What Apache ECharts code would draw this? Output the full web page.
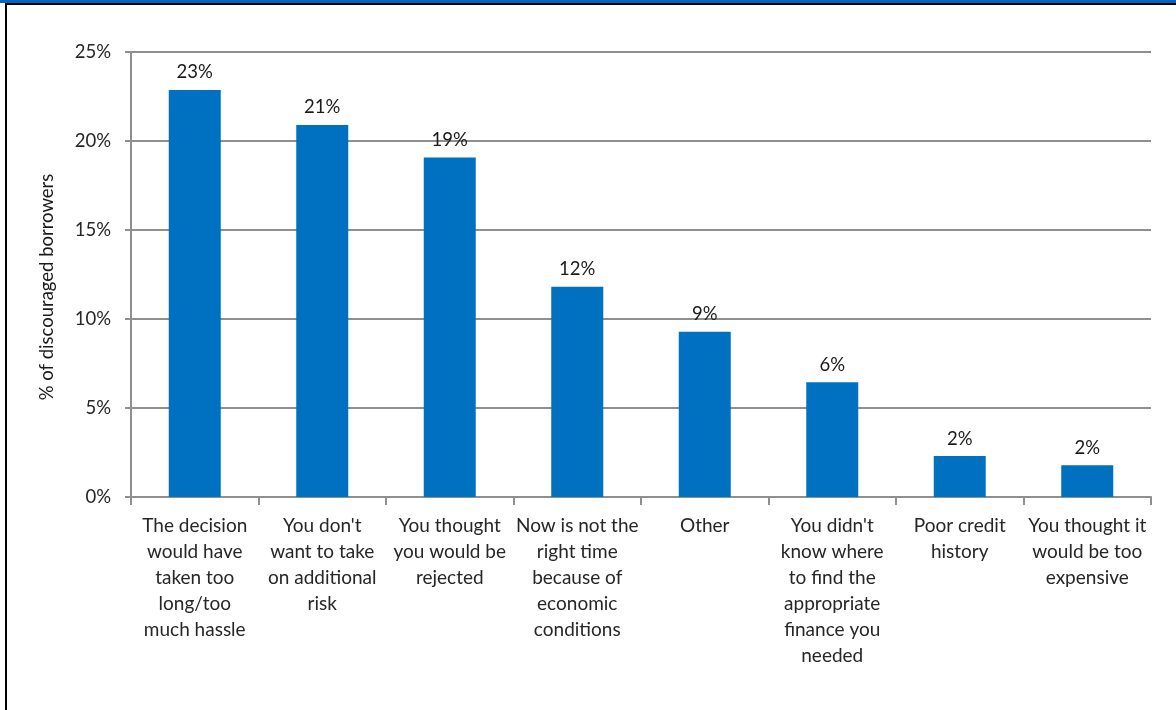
<!DOCTYPE html>
<html>
<head>
<meta charset="utf-8">
<script src="https://cdn.jsdelivr.net/npm/echarts@6/dist/echarts.min.js"></script>
<style>
  html, body { margin: 0; padding: 0; background: #fff; }
  #frame { position: absolute; left: 0; top: 0; width: 1176px; height: 710px; overflow: hidden; }
  #topband { position: absolute; left: 0; top: 0; width: 1176px; height: 3px; background: #0563C1; }
  #topline { position: absolute; left: 5px; top: 3px; width: 1171px; height: 2px; background: #000; }
  #leftline { position: absolute; left: 5px; top: 3px; width: 2px; height: 707px; background: #000; }
  #chart { position: absolute; left: 0; top: 0; width: 1176px; height: 710px; }
</style>
</head>
<body>
<div id="frame">
  <div id="chart"></div>
  <div id="topband"></div>
  <div id="topline"></div>
  <div id="leftline"></div>
</div>
<script>
// Reasons given by discouraged borrowers (share in %)
const categories = [
  'The decision\nwould have\ntaken too\nlong/too\nmuch hassle',
  "You don't\nwant to take\non additional\nrisk",
  'You thought\nyou would be\nrejected',
  'Now is not the\nright time\nbecause of\neconomic\nconditions',
  'Other',
  "You didn't\nknow where\nto find the\nappropriate\nfinance you\nneeded",
  'Poor credit\nhistory',
  'You thought it\nwould be too\nexpensive'
];
const shares = [22.87, 20.9, 19.08, 11.81, 9.29, 6.44, 2.3, 1.78];
const yTicks = [0, 5, 10, 15, 20, 25];
const yAxisTitle = '% of discouraged borrowers';

const FONT = 'Lato, "Open Sans", "Noto Sans", sans-serif';
const GRID_GREY = '#8f8f8f';
const chart = echarts.init(document.getElementById('chart'), null, { renderer: 'canvas' });

chart.setOption({
  animation: false,
  backgroundColor: '#fff',
  grid: { left: 131, right: 25, top: 52, bottom: 213, containLabel: false },
  xAxis: {
    type: 'category',
    data: categories,
    boundaryGap: true,
    axisLine: { show: true, lineStyle: { color: GRID_GREY, width: 2 } },
    axisTick: { show: true, alignWithLabel: false, length: 8, lineStyle: { color: GRID_GREY, width: 2 } },
    axisLabel: {
      interval: 0,
      margin: 16,
      color: '#262626',
      fontFamily: FONT,
      fontSize: 19,
      lineHeight: 26,
      align: 'center'
    }
  },
  yAxis: {
    type: 'value',
    min: yTicks[0],
    max: yTicks[yTicks.length - 1],
    interval: 5,
    axisLine: { show: true, lineStyle: { color: GRID_GREY, width: 2 } },
    axisTick: { show: true, length: 6, lineStyle: { color: GRID_GREY, width: 2 } },
    splitLine: { show: true, lineStyle: { color: GRID_GREY, width: 2 } },
    axisLabel: {
      margin: 20,
      color: '#262626',
      fontFamily: FONT,
      fontSize: 18.5,
      formatter: v => v + '%'
    }
  },
  graphic: [{
    type: 'text',
    x: 47,
    y: 287,
    rotation: Math.PI / 2,
    style: {
      text: yAxisTitle,
      font: '18.5px ' + FONT,
      fill: '#1a1a1a',
      align: 'center',
      verticalAlign: 'middle'
    }
  }],
  series: [{
    type: 'bar',
    data: shares,
    barWidth: 52,
    itemStyle: { color: '#0070C0' },
    label: {
      show: true,
      position: 'top',
      distance: 8,
      color: '#1a1a1a',
      fontFamily: FONT,
      fontSize: 18.5,
      formatter: p => Math.round(p.value) + '%'
    }
  }]
});
</script>
</body>
</html>
